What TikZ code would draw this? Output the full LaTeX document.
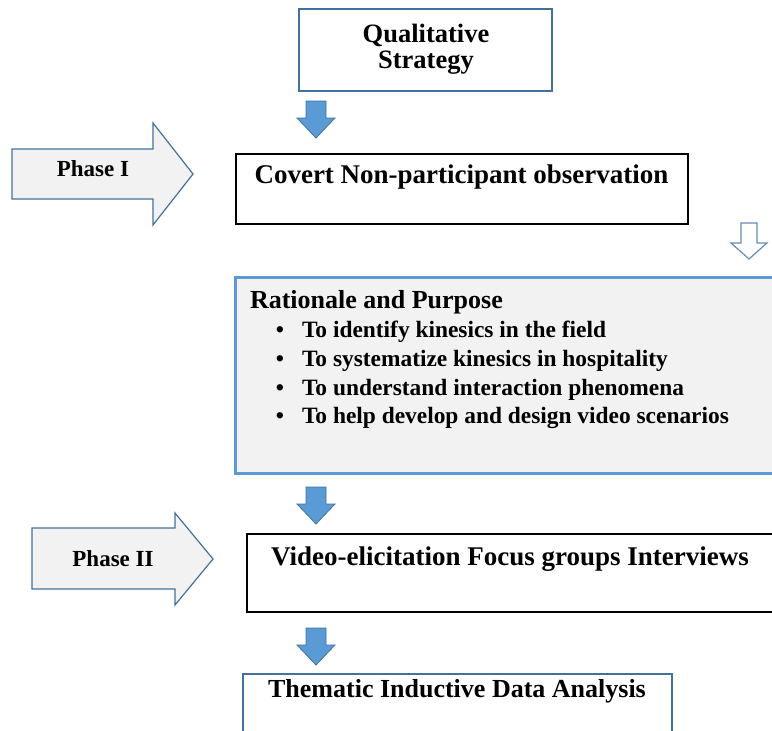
\documentclass[tikz,border=0pt]{standalone}
\usepackage{fontspec}
\setmainfont{Liberation Serif}
\definecolor{steel}{HTML}{41719C}
\definecolor{flowblue}{HTML}{5B9BD5}
\definecolor{panel}{HTML}{F2F2F2}
\begin{document}
\begin{tikzpicture}[x=1pt,y=-1pt,
  every node/.style={inner sep=0pt, outer sep=0pt},
  bluebox/.style={draw=steel, line width=1.3pt, fill=white, anchor=north west},
  blackbox/.style={draw=black, line width=1.5pt, fill=white, anchor=north west},
  purposebox/.style={draw=flowblue, line width=3pt, fill=panel, anchor=north west},
  phasearrow/.style={draw=steel, line width=1.2pt, fill=panel, line join=miter},
  hollowarrow/.style={draw=steel!80, line width=1.2pt, fill=white},
  flowarrow/.style={draw=steel, line width=0.8pt, fill=flowblue},
  title/.style={font=\bfseries\fontsize{27}{30}\selectfont, anchor=base},
  headtext/.style={font=\bfseries\fontsize{26}{30}\selectfont, anchor=base west},
  itemtext/.style={font=\bfseries\fontsize{23.4}{27}\selectfont, anchor=base west},
  phasetext/.style={font=\bfseries\fontsize{23}{26}\selectfont, anchor=base},
  downblock/.pic={\draw[flowarrow] (-10,0) -- (10,0) -- (10,17) -- (19,17)
                   -- (0,37) -- (-19,17) -- (-10,17) -- cycle;}
]
\useasboundingbox (0,0) rectangle (772,731);
\clip (0,0) rectangle (772,731);

% --- boxes ---
\node[bluebox, minimum width=253pt, minimum height=82pt] (qual) at (299,9) {};
\node[blackbox, minimum width=452pt, minimum height=70pt] (covert) at (236,154) {};
\node[purposebox, minimum width=560pt, minimum height=196pt] (purpose) at (235,277) {};
\node[blackbox, minimum width=540pt, minimum height=78pt] (video) at (247,534) {};
\node[bluebox, minimum width=429pt, minimum height=80pt] (thematic) at (243,674) {};

% --- box texts ---
\node[title, font=\bfseries\fontsize{26.5}{30}\selectfont] (qualA) at (426,42) {Qualitative};
\node[title, font=\bfseries\fontsize{26.5}{30}\selectfont] (qualB) at (426,68) {Strategy};
\node[title] (covertText) at (461.5,183) {Covert Non-participant observation};
\node[headtext] (purposeHead) at (250,308) {Rationale and Purpose};
\foreach \y/\t [count=\i] in {337/To identify kinesics in the field,
                             366.5/To systematize kinesics in hospitality,
                             395/To understand interaction phenomena,
                             423.5/To help develop and design video scenarios}{
  \node[itemtext, anchor=base] (dot\i) at (280,\y) {\textbullet};
  \node[itemtext] (item\i) at (302,\y) {\t};
}
\node[title] (videoText) at (510,565) {Video-elicitation Focus groups Interviews};
\node[title, font=\bfseries\fontsize{26}{30}\selectfont] (thematicText) at (457,697) {Thematic Inductive Data Analysis};

% --- phase arrows ---
\draw[phasearrow] (12,149) -- (153,149) -- (153,123) -- (193,174) -- (153,225)
  -- (153,199) -- (12,199) -- cycle;
\node[phasetext] (phase1) at (93,176) {Phase I};
\draw[phasearrow] (32,528) -- (175,528) -- (175,513) -- (213,559) -- (175,605)
  -- (175,589) -- (32,589) -- cycle;
\node[phasetext] (phase2) at (113,566) {Phase II};

% --- flow arrows between boxes ---
\pic at (316,101) {downblock};
\pic at (316,487) {downblock};
\pic at (316,628) {downblock};
\draw[hollowarrow] (741,223) -- (757,223) -- (757,243) -- (767,243) -- (749,259)
  -- (731,243) -- (741,243) -- cycle;
\end{tikzpicture}
\end{document}
